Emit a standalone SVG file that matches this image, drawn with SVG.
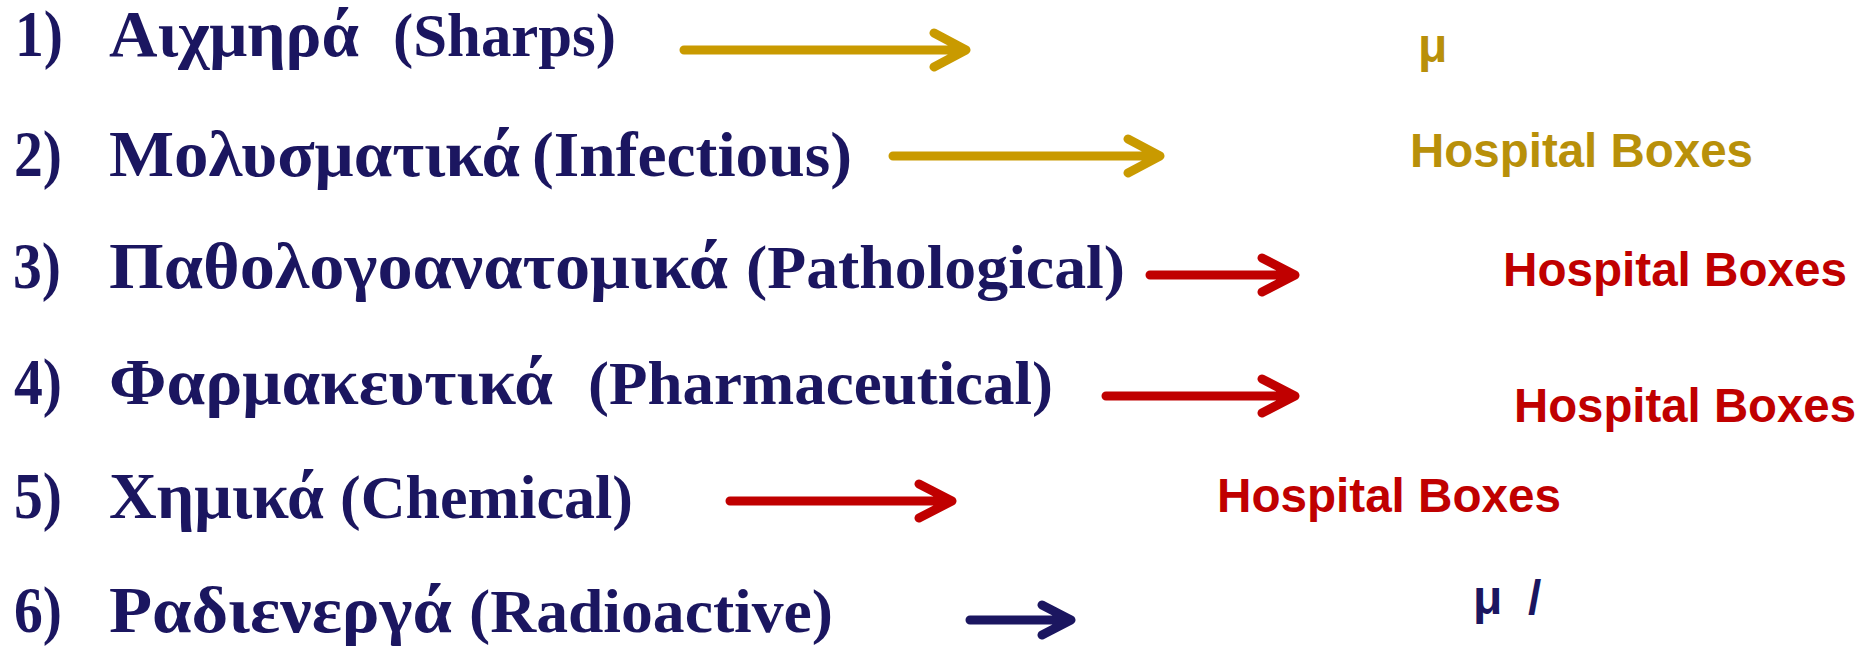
<svg xmlns="http://www.w3.org/2000/svg" width="1866" height="649" viewBox="0 0 1866 649">
<style>
.gr{font-family:"Liberation Serif","DejaVu Serif",serif;font-weight:bold;font-size:65px;fill:#1B1660}
.en{font-family:"Liberation Serif","DejaVu Serif",serif;font-weight:bold;font-size:61px;fill:#1B1660}
.hb{font-family:"Liberation Sans",Arial,sans-serif;font-weight:bold;font-size:48px}
.gold{fill:#B8900A}
.red{fill:#C00000}
.navy{fill:#1B1660}
.arr{fill:none;stroke-width:9;stroke-linecap:round;stroke-linejoin:round}
</style>
<rect width="1866" height="649" fill="#FFFFFF"/>
<g id="row1">
<text class="gr" x="15" y="56" textLength="48" lengthAdjust="spacingAndGlyphs">1)</text>
<text class="gr" x="109" y="56" textLength="250" lengthAdjust="spacingAndGlyphs">Αιχμηρά</text>
<text class="en" x="393" y="56" textLength="223" lengthAdjust="spacingAndGlyphs">(Sharps)</text>
<text class="hb gold" x="1418" y="62">μ</text>
</g>
<g id="row2">
<text class="gr" x="14" y="176" textLength="48" lengthAdjust="spacingAndGlyphs">2)</text>
<text class="gr" x="109" y="176" textLength="411" lengthAdjust="spacingAndGlyphs">Μολυσματικά</text>
<text class="en" x="532" y="176" textLength="320" lengthAdjust="spacingAndGlyphs" style="font-size:63px">(Infectious)</text>
<text class="hb gold" x="1410" y="167" textLength="343" lengthAdjust="spacingAndGlyphs">Hospital Boxes</text>
</g>
<g id="row3">
<text class="gr" x="13" y="288" textLength="48" lengthAdjust="spacingAndGlyphs">3)</text>
<text class="gr" x="109" y="288" textLength="619" lengthAdjust="spacingAndGlyphs">Παθολογοανατομικά</text>
<text class="en" x="746" y="288" textLength="379" lengthAdjust="spacingAndGlyphs">(Pathological)</text>
<text class="hb red" x="1503" y="286" textLength="344" lengthAdjust="spacingAndGlyphs">Hospital Boxes</text>
</g>
<g id="row4">
<text class="gr" x="14" y="404" textLength="48" lengthAdjust="spacingAndGlyphs">4)</text>
<text class="gr" x="109" y="404" textLength="444" lengthAdjust="spacingAndGlyphs">Φαρμακευτικά</text>
<text class="en" x="588" y="404" textLength="465" lengthAdjust="spacingAndGlyphs">(Pharmaceutical)</text>
<text class="hb red" x="1514" y="422" textLength="342" lengthAdjust="spacingAndGlyphs">Hospital Boxes</text>
</g>
<g id="row5">
<text class="gr" x="14" y="518" textLength="48" lengthAdjust="spacingAndGlyphs">5)</text>
<text class="gr" x="109" y="518" textLength="215" lengthAdjust="spacingAndGlyphs">Χημικά</text>
<text class="en" x="340" y="518" textLength="293" lengthAdjust="spacingAndGlyphs">(Chemical)</text>
<text class="hb red" x="1217" y="512" textLength="344" lengthAdjust="spacingAndGlyphs">Hospital Boxes</text>
</g>
<g id="row6">
<text class="gr" x="14" y="632" textLength="48" lengthAdjust="spacingAndGlyphs">6)</text>
<text class="gr" x="109" y="632" textLength="343" lengthAdjust="spacingAndGlyphs">Ραδιενεργά</text>
<text class="en" x="469" y="632" textLength="364" lengthAdjust="spacingAndGlyphs">(Radioactive)</text>
<text class="hb navy" x="1473" y="614">μ</text>
<text class="hb navy" x="1528" y="614">/</text>
</g>
<g id="connectors">
<path class="arr" stroke="#C99A00" d="M684 50H962M934 33L966 50L934 67"/>
<path class="arr" stroke="#C99A00" d="M893 156H1156M1128 139L1160 156L1128 173"/>
<path class="arr" stroke="#C00000" d="M1150 275H1291M1262 258L1295 275L1262 292"/>
<path class="arr" stroke="#C00000" d="M1106 396H1291M1262 379L1295 396L1262 413"/>
<path class="arr" stroke="#C00000" d="M730 501H949M919 484L952 501L919 518"/>
<path class="arr" stroke="#1B1660" d="M970 620H1068M1042 605L1071 620L1042 635"/>
</g>
</svg>
